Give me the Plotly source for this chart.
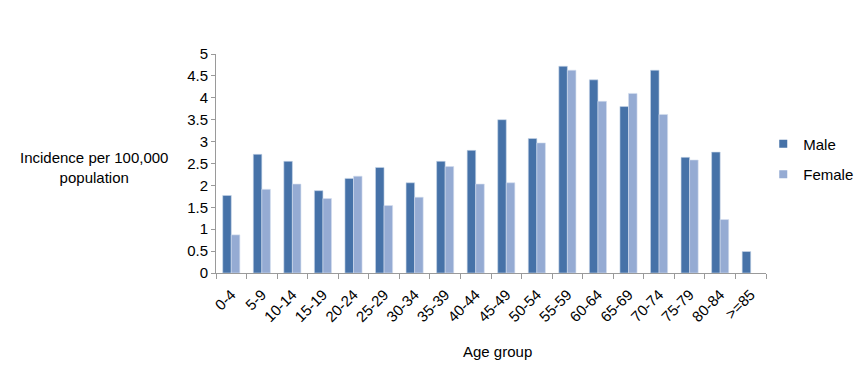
import plotly.graph_objects as go

age_groups = ["0-4", "5-9", "10-14", "15-19", "20-24", "25-29", "30-34", "35-39",
              "40-44", "45-49", "50-54", "55-59", "60-64", "65-69", "70-74", "75-79",
              "80-84", ">=85"]
male = [1.77, 2.71, 2.55, 1.88, 2.16, 2.41, 2.06, 2.55, 2.80, 3.50, 3.07, 4.72,
        4.41, 3.80, 4.63, 2.64, 2.76, 0.49]
female = [0.87, 1.91, 2.03, 1.70, 2.21, 1.54, 1.73, 2.43, 2.03, 2.06, 2.97, 4.63,
          3.92, 4.10, 3.62, 2.58, 1.22, None]
y_ticks = [0, 0.5, 1, 1.5, 2, 2.5, 3, 3.5, 4, 4.5, 5]
y_tick_labels = ["0", "0.5", "1", "1.5", "2", "2.5", "3", "3.5", "4", "4.5", "5"]

FONT = "Liberation Sans, Arial, sans-serif"
MALE_C = "#4672A8"
FEMALE_C = "#95ABD3"

fig = go.Figure()
fig.add_trace(go.Bar(x=age_groups, y=male, name="Male", showlegend=False,
                     marker=dict(color=MALE_C, line=dict(color="#C9D7EA", width=0.6))))
fig.add_trace(go.Bar(x=age_groups, y=female, name="Female", showlegend=False,
                     marker=dict(color=FEMALE_C, line=dict(color="#D3DDEE", width=0.6))))
# legend-only entries with small square symbols
fig.add_trace(go.Scatter(x=[None], y=[None], mode="markers", name="Male", legendgroup="m",
                         marker=dict(symbol="square", size=8, color=MALE_C)))
fig.add_trace(go.Scatter(x=[None], y=[None], mode="markers", name="Female", legendgroup="f",
                         marker=dict(symbol="square", size=8, color=FEMALE_C)))

fig.update_layout(
    width=850, height=363,
    margin=dict(l=208, r=92, t=46, b=98, autoexpand=False),
    paper_bgcolor="white", plot_bgcolor="white",
    barmode="group", bargap=0.44, bargroupgap=0,
    font=dict(family=FONT, size=15, color="#000000"),
    showlegend=True,
    legend=dict(x=0.995, y=0.52, xanchor="left", yanchor="middle",
                font=dict(family=FONT, size=15), tracegroupgap=8,
                itemwidth=30, bgcolor="rgba(0,0,0,0)"),
    xaxis=dict(type="category", showline=True, linecolor="#9A9A9A", linewidth=1,
               ticks="outside", tickson="boundaries", ticklen=5, tickcolor="#9A9A9A",
               tickangle=-45, tickfont=dict(family=FONT, size=15), automargin=False,
               ticklabelstandoff=6, showgrid=False, fixedrange=True),
    yaxis=dict(range=[0, 5], tickvals=y_ticks, ticktext=y_tick_labels,
               showline=True, linecolor="#9A9A9A", linewidth=1,
               ticks="outside", ticklen=4, tickcolor="#9A9A9A",
               tickfont=dict(family=FONT, size=15), automargin=False,
               showgrid=False, zeroline=False),
    annotations=[
        dict(text="Incidence per 100,000<br>population", xref="paper", yref="paper",
             x=-0.221, y=0.483, xanchor="center", yanchor="middle", showarrow=False,
             font=dict(family=FONT, size=15), align="center"),
        dict(text="Age group", xref="paper", yref="paper",
             x=0.511, y=-0.359, xanchor="center", yanchor="middle", showarrow=False,
             font=dict(family=FONT, size=15)),
    ],
)

fig.write_html("out.html")
